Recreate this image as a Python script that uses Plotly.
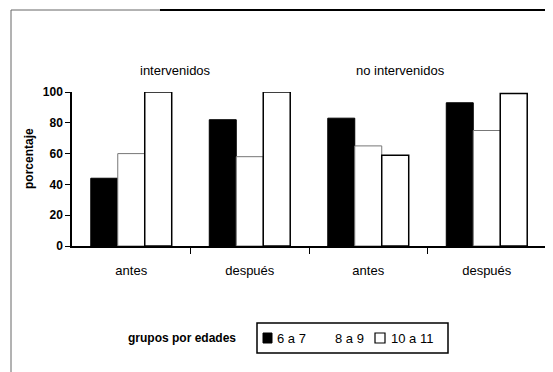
import plotly.graph_objects as go

categories = ["antes", "después", "antes", "después"]
group_titles = ["intervenidos", "no intervenidos"]
series_names = ["6 a 7", "8 a 9", "10 a 11"]
v_6a7 = [44, 82, 83, 93]
v_8a9 = [60, 58, 65, 75]
v_10a11 = [100, 100, 59, 99]
y_ticks = [0, 20, 40, 60, 80, 100]

xpos = list(range(len(categories)))
FONT = "Liberation Sans, Arial, sans-serif"

# plot area in reference pixels: x 72..546, y 92..246 (page body has an 8px offset)
PX0, PW, PY0, PH = 72, 474, 246, 154


def px(x):
    return (x - PX0) / PW


def py(y):
    return (PY0 - y) / PH


fig = go.Figure()
fig.add_trace(go.Bar(x=xpos, y=v_6a7, name=series_names[0],
                     marker=dict(color="black", line=dict(color="black", width=1))))
fig.add_trace(go.Bar(x=xpos, y=v_8a9, name=series_names[1],
                     marker=dict(color="white", line=dict(color="#777777", width=1))))
fig.add_trace(go.Bar(x=xpos, y=v_10a11, name=series_names[2],
                     marker=dict(color="white", line=dict(color="black", width=1.5))))

fig.update_layout(
    width=545, height=364,
    margin=dict(l=64, r=7, t=84, b=126),
    paper_bgcolor="white", plot_bgcolor="white",
    barmode="group", bargap=0.317, bargroupgap=0,
    font=dict(family=FONT, size=13, color="black"),
    showlegend=False,
)
fig.update_xaxes(
    range=[-0.5, 3.5], tickmode="array", tickvals=xpos, ticktext=categories,
    ticks="", showgrid=False, zeroline=False, showline=True, linecolor="black",
    linewidth=1.5, ticklabelstandoff=12, tickfont=dict(size=13),
    minor=dict(tickmode="array", tickvals=[0.5, 1.5, 2.5, 3.5], ticks="outside",
               ticklen=6, tickcolor="black", showgrid=False),
)
fig.update_yaxes(
    range=[0, 100], tickmode="array", tickvals=y_ticks, ticks="outside", ticklen=5,
    tickcolor="black", showgrid=False, zeroline=False, showline=True,
    linecolor="black", linewidth=1.5, tickfont=dict(size=12, weight="bold"),
)

for x_c, title in zip([175.5, 400], group_titles):
    fig.add_annotation(xref="paper", yref="paper", x=px(x_c), y=py(70), text=title,
                       xanchor="center", yanchor="middle", showarrow=False,
                       font=dict(size=13))
fig.add_annotation(xref="paper", yref="paper", x=px(29), y=py(159), text="porcentaje",
                   xanchor="center", yanchor="middle", textangle=-90, showarrow=False,
                   font=dict(size=12, weight="bold"))

# legend (drawn by hand to match the original's compact box and outside caption)
fig.add_annotation(xref="paper", yref="paper", x=px(182), y=py(338), text="grupos por edades",
                   xanchor="center", yanchor="middle", showarrow=False,
                   font=dict(size=12, weight="bold"))
fig.add_shape(type="rect", xref="paper", yref="paper", x0=px(257), x1=px(448),
              y0=py(323), y1=py(353), line=dict(color="black", width=1.5))
fig.add_shape(type="rect", xref="paper", yref="paper", x0=px(263), x1=px(272),
              y0=py(333), y1=py(343), fillcolor="black", line=dict(color="black", width=1))
fig.add_shape(type="rect", xref="paper", yref="paper", x0=px(375), x1=px(385),
              y0=py(333), y1=py(343), fillcolor="white", line=dict(color="black", width=1.2))
for x_l, name in zip([275, 333, 389], series_names):
    fig.add_annotation(xref="paper", yref="paper", x=px(x_l), y=py(338), text=name,
                       xanchor="left", yanchor="middle", showarrow=False,
                       font=dict(size=13))

# outer frame
fig.add_shape(type="rect", xref="paper", yref="paper", x0=px(11), y0=py(10), x1=px(600),
              y1=py(420), line=dict(color="#666666", width=1))
fig.add_shape(type="line", xref="paper", yref="paper", x0=px(160), y0=py(10),
              x1=px(600), y1=py(10), line=dict(color="black", width=2))

fig.write_html("out.html")
